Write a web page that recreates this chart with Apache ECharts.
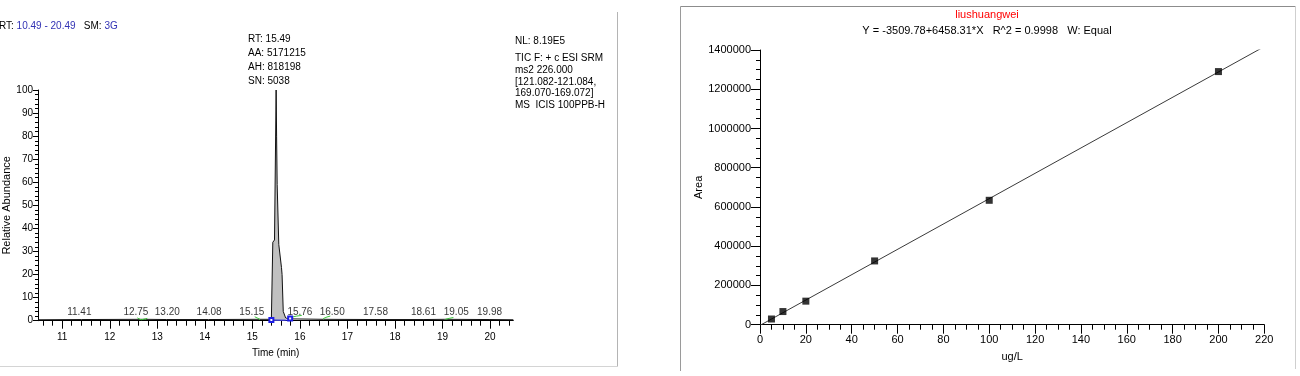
<!DOCTYPE html>
<html>
<head>
<meta charset="utf-8">
<title>Chromatogram and calibration curve</title>
<script src="https://cdn.jsdelivr.net/npm/echarts@6.0.0/dist/echarts.min.js"></script>
<style>
  html, body { margin: 0; padding: 0; background: #fff; }
  #chart { width: 1300px; height: 376px; }
</style>
</head>
<body>
<div id="chart"></div>
<script>
// chromatogram trace (Time (min) / Relative Abundance)
const traceTime = [10.49, 11.41, 12.75, 13.20, 14.08, 15.15, 15.40, 15.417, 15.43, 15.466, 15.50, 15.51, 15.522, 15.556, 15.613, 15.625, 15.65, 15.70, 15.76, 16.50, 17.58, 18.61, 19.05, 19.98, 20.49];
const traceAbund = [0.4, 0.5, 0.6, 0.5, 0.5, 0.6, 0.6, 1, 34, 35, 100, 80, 59, 33, 23, 20, 4, 1.2, 0.8, 0.6, 0.5, 0.5, 0.6, 0.5, 0.4];

// integrated peak range (grey fill)
const peakFrom = 15.40;
const peakTo = 15.72;

// small peak labels along the baseline
const rtLabelTime = [11.36, 12.55, 13.21, 14.09, 14.99, 16.0, 16.68, 17.59, 18.60, 19.29, 19.99];
const rtLabelText = ['11.41', '12.75', '13.20', '14.08', '15.15', '15.76', '16.50', '17.58', '18.61', '19.05', '19.98'];

// green peak markers (null splits segments)
const greenTime = [12.58, 12.66, 12.79, null, 15.05, 15.10, 15.16, null, 15.82, 15.93, 16.04, null, 16.49, 16.57, 16.64, null, 19.06, 19.14, 19.23];
const greenAbund = [1.2, 0.4, 1.0, null, 1.7, 1.2, 0.6, null, 1.5, 2.0, 2.3, null, 0.9, 1.6, 2.0, null, 0.6, 1.0, 1.4];

// blue baseline of the integrated peak
const blueTime = [15.40, 15.43, 15.76, 15.795];
const blueAbund = [0.3, 0, 0.2, 1];

// time axis ticks
const timeTicks = [11, 12, 13, 14, 15, 16, 17, 18, 19, 20];
const timeMinorTicks = [];
for (let i = 53; i <= 102; i++) timeMinorTicks.push(+(i * 0.2).toFixed(1));

// calibration curve (ug/L / Area)
const concX = [5, 10, 20, 50, 100, 200];
const areaY = [29000, 67000, 120000, 325000, 634000, 1290000];
// Y = -3509.78 + 6458.31 * X, drawn from 0 to 220
const fitX = [0, 220];
const fitY = [-3509.78, 1417318.42];

const FONT = '"Liberation Sans", Arial, sans-serif';

const chart = echarts.init(document.getElementById('chart'));

const peakData = [];
const traceData = traceTime.map((t, i) => {
  if (t >= peakFrom && t <= peakTo) peakData.push([t, traceAbund[i]]);
  return [t, traceAbund[i]];
});

const axisLine = { show: true, lineStyle: { color: '#000', width: 1 } };

const option = {
  animation: false,
  backgroundColor: '#fff',
  grid: [
    { left: 38, top: 90, width: 475.3, height: 230.7 },
    { left: 760, top: 50, width: 504.3, height: 274.7 }
  ],
  xAxis: [
    {
      gridIndex: 0, type: 'value', min: 10.49, max: 20.49, position: 'bottom',
      name: 'Time (min)', nameLocation: 'middle', nameGap: 28,
      nameTextStyle: { color: '#000', fontSize: 10, fontFamily: FONT },
      axisLine,
      axisTick: { show: true, length: 8, customValues: timeTicks, lineStyle: { color: '#000' } },
      axisLabel: { customValues: timeTicks, margin: 12, color: '#000', fontSize: 10, fontFamily: FONT },
      splitLine: { show: false }
    },
    {
      gridIndex: 0, type: 'value', min: 10.49, max: 20.49, position: 'bottom',
      axisLine: { show: false },
      axisTick: { show: true, length: 5, customValues: timeMinorTicks, lineStyle: { color: '#000' } },
      axisLabel: { show: false },
      splitLine: { show: false }
    },
    {
      gridIndex: 1, type: 'value', min: 0, max: 220, interval: 20,
      name: 'ug/L', nameLocation: 'middle', nameGap: 27,
      nameTextStyle: { color: '#000', fontSize: 11, fontFamily: FONT },
      axisLine,
      axisTick: { show: true, length: 9, lineStyle: { color: '#000' } },
      minorTick: { show: true, splitNumber: 4, length: 5, lineStyle: { color: '#000' } },
      axisLabel: { margin: 10, color: '#000', fontSize: 11, fontFamily: FONT },
      splitLine: { show: false }
    }
  ],
  yAxis: [
    {
      gridIndex: 0, type: 'value', min: 0, max: 100, interval: 10,
      name: 'Relative Abundance', nameLocation: 'middle', nameGap: 22,
      nameTextStyle: { color: '#000', fontSize: 11, fontFamily: FONT },
      axisLine,
      axisTick: { show: true, length: 5, lineStyle: { color: '#000' } },
      minorTick: { show: true, splitNumber: 5, length: 3, lineStyle: { color: '#000' } },
      axisLabel: { margin: 5, color: '#000', fontSize: 10, fontFamily: FONT },
      splitLine: { show: false }
    },
    {
      gridIndex: 1, type: 'value', min: 0, max: 1400000, interval: 200000,
      name: 'Area', nameLocation: 'middle', nameGap: 55,
      nameTextStyle: { color: '#000', fontSize: 11, fontFamily: FONT },
      axisLine,
      axisTick: { show: true, length: 9, lineStyle: { color: '#000' } },
      minorTick: { show: true, splitNumber: 4, length: 4, lineStyle: { color: '#000' } },
      axisLabel: { margin: 9, color: '#000', fontSize: 11, fontFamily: FONT, formatter: v => String(v) },
      splitLine: { show: false }
    }
  ],
  series: [
    // grey area of the integrated peak
    {
      type: 'line', xAxisIndex: 0, yAxisIndex: 0, data: peakData, symbol: 'none', z: 1,
      lineStyle: { width: 0, opacity: 0 },
      areaStyle: { color: '#c0c0c0', opacity: 1 }
    },
    // TIC trace
    {
      type: 'line', xAxisIndex: 0, yAxisIndex: 0, data: traceData, symbol: 'none', z: 3,
      lineStyle: { color: '#111', width: 1 }
    },
    // green markers
    {
      type: 'line', xAxisIndex: 0, yAxisIndex: 0, symbol: 'none', z: 4, connectNulls: false,
      data: greenTime.map((t, i) => (t === null ? '-' : [t, greenAbund[i]])),
      lineStyle: { color: '#3cc83c', width: 1 }
    },
    // blue peak baseline
    {
      type: 'line', xAxisIndex: 0, yAxisIndex: 0, z: 5,
      data: blueTime.map((t, i) => ({
        value: [t, blueAbund[i]],
        symbol: (i === 0 || i === blueTime.length - 1) ? 'emptyRect' : 'none'
      })),
      symbolSize: 4, showSymbol: true,
      itemStyle: { color: '#1e1ee6', borderColor: '#1e1ee6', borderWidth: 1 },
      lineStyle: { color: '#1e1ee6', width: 1 }
    },
    // RT labels
    {
      type: 'scatter', xAxisIndex: 0, yAxisIndex: 0, symbolSize: 0, z: 6,
      data: rtLabelTime.map((t, i) => ({ name: rtLabelText[i], value: [t, 0.4] })),
      label: { show: true, position: 'top', distance: 3, formatter: '{b}', color: '#000', fontSize: 10, fontFamily: FONT }
    },
    // regression line
    {
      type: 'line', xAxisIndex: 2, yAxisIndex: 1, symbol: 'none', z: 2,
      data: fitX.map((x, i) => [x, fitY[i]]),
      lineStyle: { color: '#3a3a3a', width: 1 }
    },
    // calibration standards
    {
      type: 'scatter', xAxisIndex: 2, yAxisIndex: 1, symbol: 'rect', symbolSize: 7, z: 3,
      data: concX.map((x, i) => [x, areaY[i]]),
      itemStyle: { color: '#000' }
    }
  ],
  graphic: [
    // panel frames
    { type: 'line', shape: { x1: 617.5, y1: 12, x2: 617.5, y2: 366 }, style: { stroke: '#b4b4b4', lineWidth: 1 } },
    { type: 'line', shape: { x1: 0, y1: 366.5, x2: 618, y2: 366.5 }, style: { stroke: '#d4d4d4', lineWidth: 1 } },
    { type: 'line', shape: { x1: 680.5, y1: 6.5, x2: 1295.5, y2: 6.5 }, style: { stroke: '#8c8c8c', lineWidth: 1 } },
    { type: 'line', shape: { x1: 680.5, y1: 6.5, x2: 680.5, y2: 371 }, style: { stroke: '#9a9a9a', lineWidth: 1 } },
    { type: 'line', shape: { x1: 1295.5, y1: 6.5, x2: 1295.5, y2: 369 }, style: { stroke: '#cfcfcf', lineWidth: 1 } },
    // chromatogram header
    {
      type: 'text', x: -1, y: 26,
      style: {
        text: 'RT: {b|10.49 - 20.49}   SM: {b|3G}',
        rich: { b: { fill: '#3232b4', fontSize: 10, fontFamily: FONT } },
        fill: '#000', fontSize: 10, fontFamily: FONT, verticalAlign: 'middle'
      }
    },
    {
      type: 'text', x: 248, y: 32,
      style: {
        text: 'RT: 15.49\nAA: 5171215\nAH: 818198\nSN: 5038',
        fill: '#000', fontSize: 10, fontFamily: FONT, lineHeight: 14, verticalAlign: 'top'
      }
    },
    {
      type: 'text', x: 515, y: 41.5,
      style: { text: 'NL: 8.19E5', fill: '#000', fontSize: 10, fontFamily: FONT, verticalAlign: 'middle' }
    },
    {
      type: 'text', x: 515, y: 52.5,
      style: {
        text: 'TIC F: + c ESI SRM\nms2 226.000\n[121.082-121.084,\n169.070-169.072]\nMS  ICIS 100PPB-H',
        fill: '#000', fontSize: 10, fontFamily: FONT, lineHeight: 11.7, verticalAlign: 'top'
      }
    },
    // calibration header
    {
      type: 'text', x: 987, y: 15,
      style: { text: 'liushuangwei', fill: '#ff0000', fontSize: 11, fontFamily: FONT, align: 'center', verticalAlign: 'middle' }
    },
    {
      type: 'text', x: 987, y: 31,
      style: { text: 'Y = -3509.78+6458.31*X   R^2 = 0.9998   W: Equal', fill: '#000', fontSize: 11, fontFamily: FONT, align: 'center', verticalAlign: 'middle' }
    }
  ]
};

chart.setOption(option);
</script>
</body>
</html>
